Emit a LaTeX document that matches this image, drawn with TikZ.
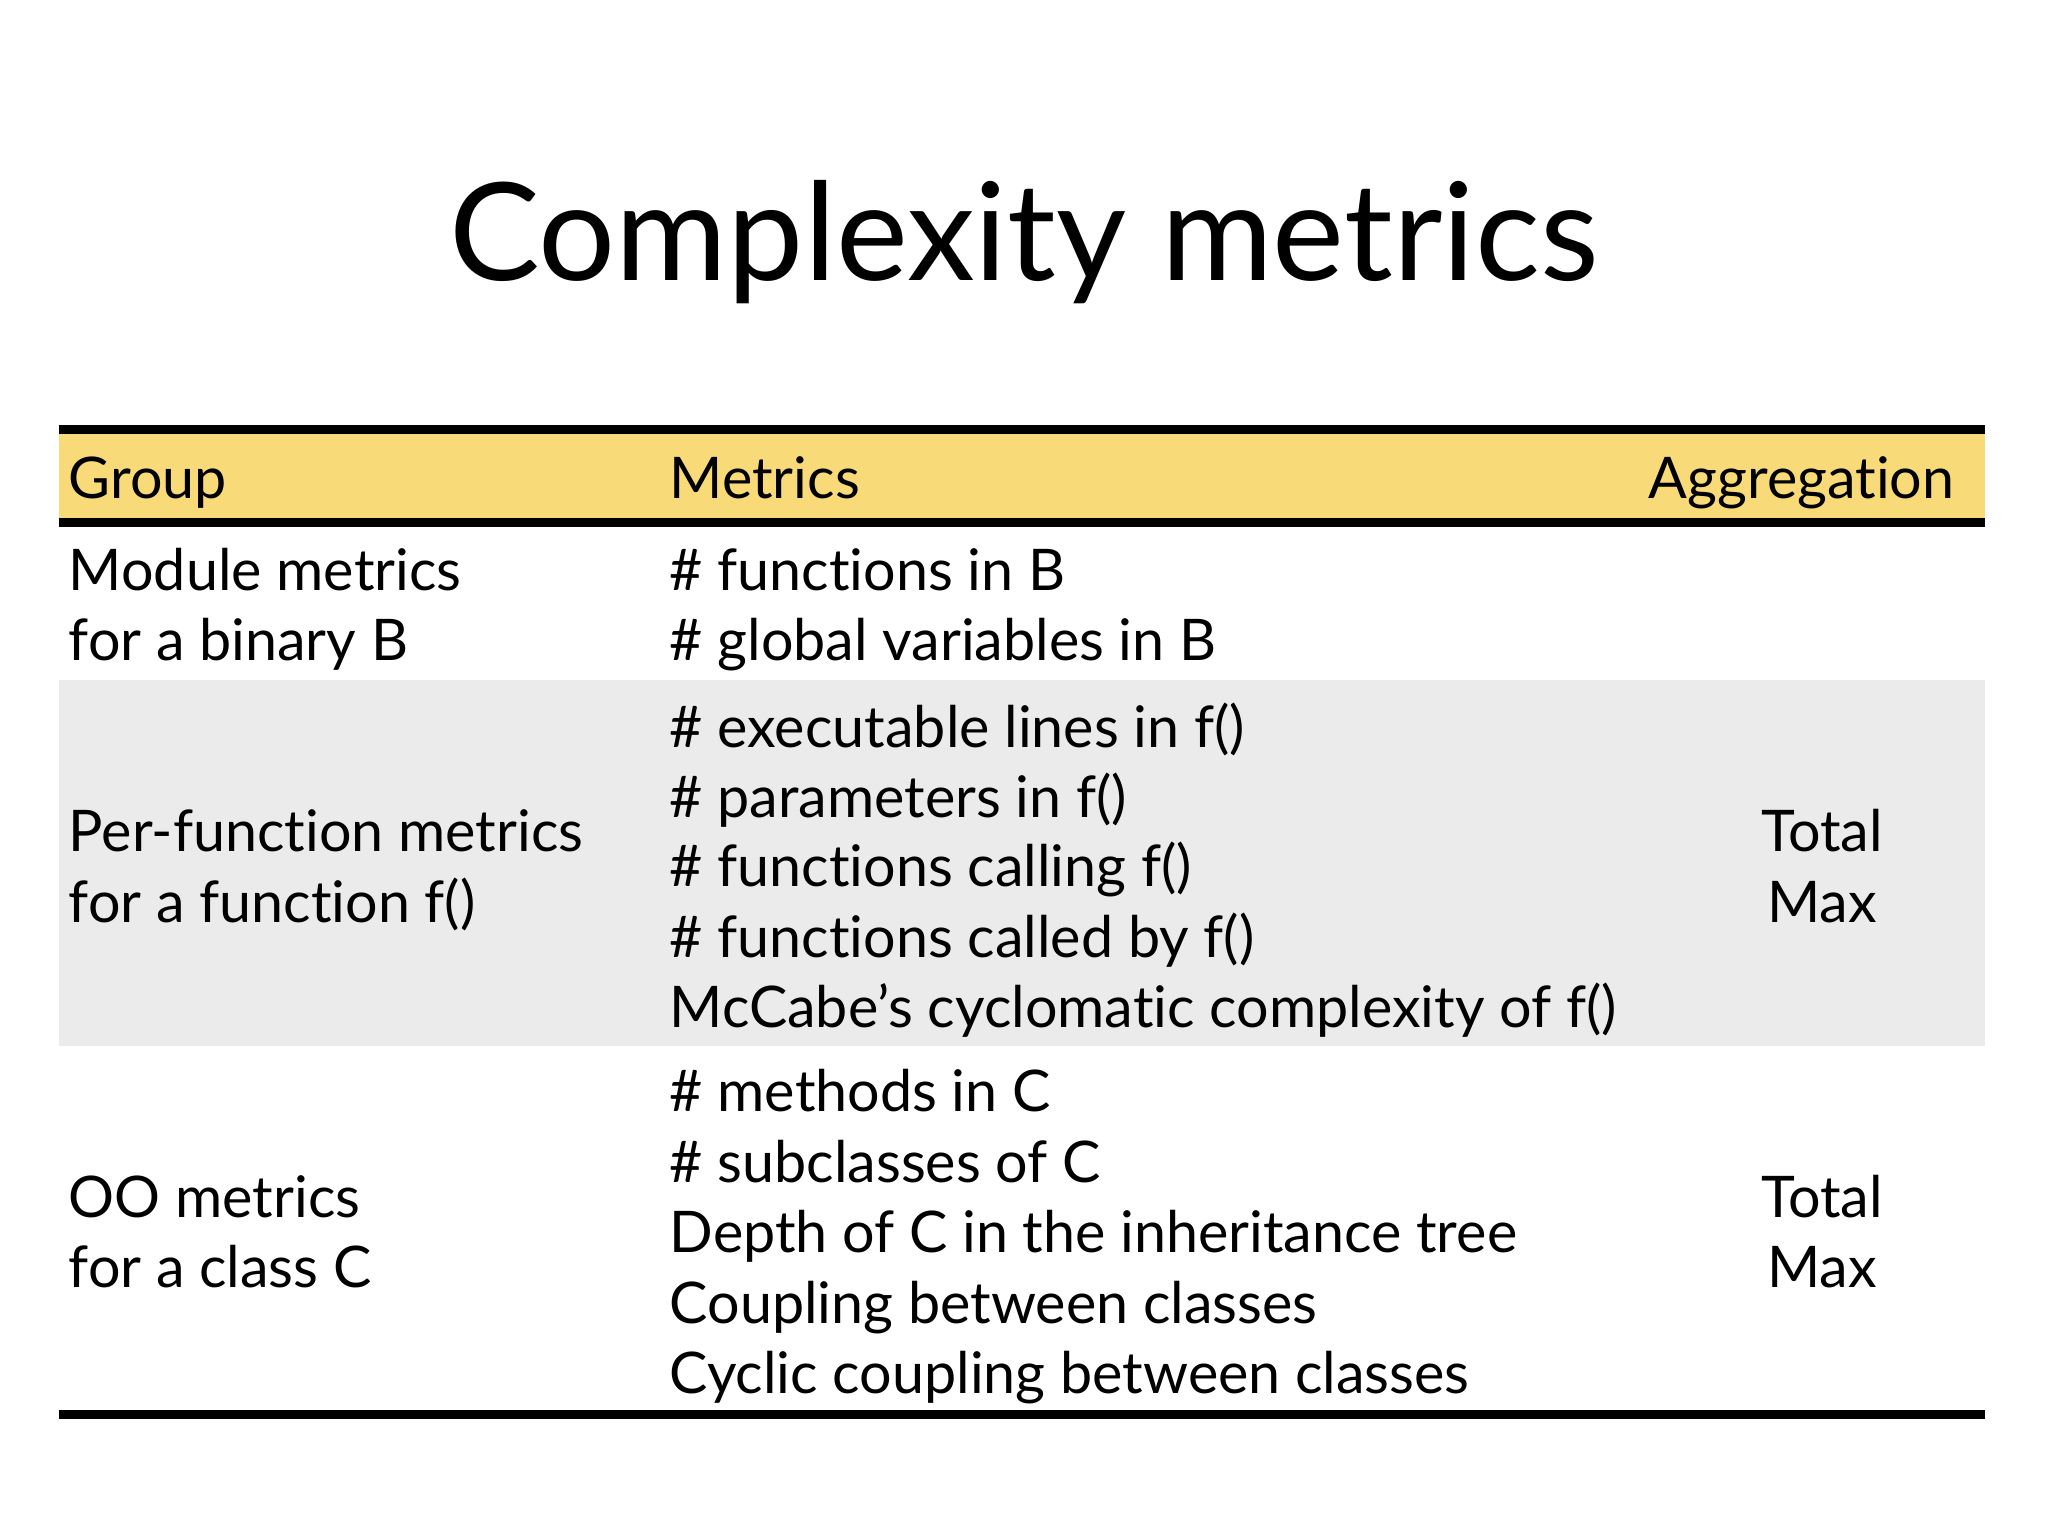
\documentclass[tikz,border=0pt]{standalone}
\usepackage{fontspec}
\setmainfont{Lato}[Ligatures={NoCommon}]
\definecolor{hdr}{HTML}{F9DA78}
\definecolor{rowg}{HTML}{EBEBEB}
\begin{document}
\begin{tikzpicture}[x=0.01cm,y=-0.01cm,
  txt/.style={anchor=base west,inner sep=0,font=\fontsize{12.5}{15}\selectfont},
  agg/.style={anchor=base,inner sep=0,font=\fontsize{12.5}{15}\selectfont}]
\useasboundingbox[fill=white] (0,0) rectangle (1568,1176);
\fill[hdr] (45,329) rectangle (1520,399);
\fill[rowg] (45,521) rectangle (1520,801);
\draw[line width=2pt] (45,329) -- (1520,329);
\draw[line width=2pt] (45,400) -- (1520,400);
\draw[line width=2pt] (45,1083) -- (1520,1083);
\node[anchor=base,inner sep=0,font=\fontsize{29.6}{36}\selectfont] (title) at (784,215) {Complexity metrics};
\node[txt] (hg) at (52,382) {Group};
\node[txt] (hm) at (512,382) {Metrics};
\node[anchor=base east,inner sep=0,font=\fontsize{12.5}{15}\selectfont] (ha) at (1497,382) {Aggregation};
\node[txt] (g1a) at (52,452) {Module metrics};
\node[txt] (g1b) at (52,506) {for a binary B};
\node[txt] (m1a) at (512,452) {\# functions in B};
\node[txt] (m1b) at (512,506) {\# global variables in B};
\node[txt] (g2a) at (52,652) {Per-function metrics};
\node[txt] (g2b) at (52,706) {for a function f()};
\node[txt] (m2a) at (512,572) {\# executable lines in f()};
\node[txt] (m2b) at (512,626) {\# parameters in f()};
\node[txt] (m2c) at (512,679) {\# functions calling f()};
\node[txt] (m2d) at (512,733) {\# functions called by f()};
\node[txt] (m2e) at (512,787) {McCabe’s cyclomatic complexity of f()};
\node[agg] (a2a) at (1395,652) {Total};
\node[agg] (a2b) at (1395,706) {Max};
\node[txt] (g3a) at (52,932) {OO metrics};
\node[txt] (g3b) at (52,986) {for a class C};
\node[txt] (m3a) at (512,851) {\# methods in C};
\node[txt] (m3b) at (512,905) {\# subclasses of C};
\node[txt] (m3c) at (512,959) {Depth of C in the inheritance tree};
\node[txt] (m3d) at (512,1013) {Coupling between classes};
\node[txt] (m3e) at (512,1067) {Cyclic coupling between classes};
\node[agg] (a3a) at (1395,932) {Total};
\node[agg] (a3b) at (1395,986) {Max};
\end{tikzpicture}
\end{document}
